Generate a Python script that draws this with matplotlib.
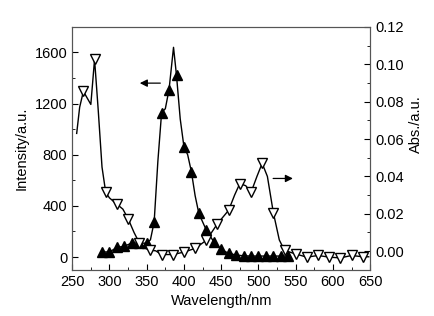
import numpy as np
import matplotlib.pyplot as plt
from matplotlib.ticker import MultipleLocator

plt.rcParams['font.family'] = ['Liberation Sans', 'DejaVu Sans']
plt.rcParams['font.size'] = 10.5

# Emission (left axis) - markers every 10 nm
em_x = [290, 300, 310, 320, 330, 340, 350, 360, 370, 380, 390, 400, 410,
        420, 430, 440, 450, 460, 470, 480, 490, 500, 510, 520, 530, 540]
em_y = [40, 40, 75, 85, 110, 110, 108, 275, 1130, 1310, 1420, 862, 667,
        341, 211, 120, 60, 29, 16, 10, 8, 8, 8, 8, 8, 8]
# Emission curve (line)
em_line_x = [290, 300, 310, 320, 330, 340, 350, 355, 360, 365, 370, 375, 380,
             386, 390, 395, 400, 405, 410, 415, 420, 430, 440, 450, 460, 470,
             480, 490, 500, 510, 520, 530, 540]
em_line_y = [40, 40, 75, 85, 110, 110, 108, 135, 275, 750, 1130, 1160, 1310,
             1640, 1420, 1080, 862, 800, 667, 480, 341, 211, 120, 60, 29, 16,
             10, 8, 8, 8, 8, 8, 8]

# Absorption (right axis) - markers every 15 nm
ab_x = [265, 280, 295, 310, 325, 340, 355, 370, 385, 400, 415, 430, 445,
        460, 475, 490, 505, 520, 535, 550, 565, 580, 595, 610, 625, 640]
ab_y = [0.0855, 0.1026, 0.0314, 0.0251, 0.0174, 0.0045, 0.0005, -0.0018,
        -0.0018, -0.0005, 0.0015, 0.0058, 0.0147, 0.0219, 0.0362, 0.0314,
        0.0470, 0.0206, 0.0004, -0.0015, -0.0032, -0.0023, -0.0032, -0.0036,
        -0.0023, -0.0030]
ab_line_x = [256, 260, 265, 275, 280, 285, 290, 295, 300, 310, 318, 325, 333,
             340, 348, 355, 362, 370, 385, 400, 415, 430, 445, 460, 468, 475,
             483, 490, 498, 505, 512, 520, 528, 535, 550, 565, 580, 595, 610,
             625, 640, 648]
ab_line_y = [0.063, 0.077, 0.0855, 0.0785, 0.1026, 0.075, 0.045, 0.0314,
             0.0285, 0.0251, 0.0225, 0.0174, 0.010, 0.0045, 0.0015, 0.0005,
             0.0002, -0.0018, -0.0018, -0.0005, 0.0015, 0.0058, 0.0147, 0.0219,
             0.030, 0.0362, 0.035, 0.0314, 0.040, 0.0470, 0.040, 0.0206, 0.006,
             0.0004, -0.0015, -0.0032, -0.0023, -0.0032, -0.0036, -0.0023,
             -0.0030, -0.0030]

fig, ax = plt.subplots(figsize=(4.35, 3.16), dpi=100)
fig.subplots_adjust(left=0.166, right=0.851, top=0.915, bottom=0.146)
ax2 = ax.twinx()

ax.plot(em_line_x, em_line_y, color='black', lw=1.0)
ax.plot(em_x, em_y, ls='none', marker='^', ms=6.5, color='black')
ax2.plot(ab_line_x, ab_line_y, color='black', lw=1.0)
ax2.plot(ab_x, ab_y, ls='none', marker='v', ms=6.5, mfc='white',
         mec='black', mew=1.0)

ax.annotate('', xy=(337, 1360), xytext=(372, 1360),
            arrowprops=dict(arrowstyle='-|>', color='black', lw=0.9,
                            mutation_scale=11))
ax2.annotate('', xy=(550, 0.0389), xytext=(516, 0.0389),
             arrowprops=dict(arrowstyle='-|>', color='black', lw=0.9,
                             mutation_scale=11))

ax.set_xlim(250, 650)
ax.set_ylim(-100, 1800)
ax2.set_ylim(-0.01, 0.12)

ax.xaxis.set_major_locator(MultipleLocator(50))
ax.xaxis.set_minor_locator(MultipleLocator(25))
ax.yaxis.set_major_locator(MultipleLocator(400))
ax.yaxis.set_minor_locator(MultipleLocator(200))
ax2.yaxis.set_major_locator(MultipleLocator(0.02))
ax2.yaxis.set_minor_locator(MultipleLocator(0.01))
ax2.yaxis.set_major_formatter(plt.FormatStrFormatter('%.2f'))

ax.tick_params(axis='both', which='both', direction='in', top=False)
ax.tick_params(which='major', length=4)
ax.tick_params(which='minor', length=2)
ax2.tick_params(axis='y', which='both', direction='in')
ax2.tick_params(which='major', length=4)
ax2.tick_params(which='minor', length=2)

ax.set_xlabel('Wavelength/nm')
ax.set_ylabel('Intensity/a.u.')
ax2.set_ylabel('Abs./a.u.')
ax2.yaxis.set_label_coords(1.13, 0.6)

for a in (ax, ax2):
    for s in a.spines.values():
        s.set_color('#555555')

fig.savefig('out.png', dpi=100)
